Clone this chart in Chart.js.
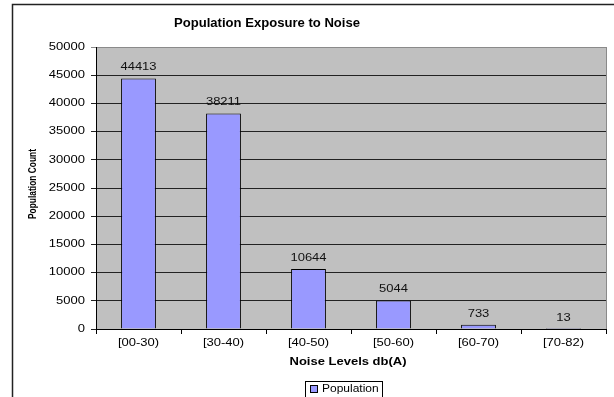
<!DOCTYPE html>
<html>
<head>
<meta charset="utf-8">
<script src="https://cdn.jsdelivr.net/npm/chart.js@4"></script>
<style>
  html, body { margin: 0; padding: 0; background: #fff; }
  #wrap { width: 614px; height: 397px; position: relative; }
</style>
</head>
<body>
<div id="wrap"><canvas id="c" width="614" height="397"></canvas></div>
<script>
const categories = ['[00-30)', '[30-40)', '[40-50)', '[50-60)', '[60-70)', '[70-82)'];
const population = [44413, 38211, 10644, 5044, 733, 13];
const yTicks = [0, 5000, 10000, 15000, 20000, 25000, 30000, 35000, 40000, 45000, 50000];

const chartTitle = 'Population Exposure to Noise';
const xTitle = 'Noise Levels db(A)';
const yTitle = 'Population Count';
const seriesName = 'Population';

const FONT = '"Liberation Sans", Arial, sans-serif';
const WIDE = 1.3;   // horizontal stretch used for the wide, flat lettering

// draw text stretched horizontally by sx around its anchor point
function wideText(ctx, text, x, y, font, sx, align) {
  ctx.save();
  ctx.translate(x, y);
  ctx.scale(sx, 1);
  ctx.font = font;
  ctx.textAlign = align || 'center';
  ctx.textBaseline = 'middle';
  ctx.fillText(text, 0, 0);
  ctx.restore();
}

// Frame, plot background, titles, tick and value labels, legend
const decor = {
  id: 'decor',
  beforeDraw(chart) {
    const { ctx, chartArea: a } = chart;
    ctx.save();
    ctx.fillStyle = '#fff';
    ctx.fillRect(0, 0, chart.width, chart.height);
    // outer frame
    ctx.strokeStyle = '#222';
    ctx.lineWidth = 1.5;
    ctx.beginPath();
    ctx.moveTo(12.5, chart.height + 2);
    ctx.lineTo(12.5, 4.5);
    ctx.lineTo(chart.width + 2, 4.5);
    ctx.stroke();
    // plot area
    ctx.fillStyle = '#C0C0C0';
    ctx.fillRect(a.left, a.top, a.right - a.left, a.bottom - a.top);
    ctx.restore();
  },
  afterDraw(chart) {
    const { ctx, chartArea: a } = chart;
    const xs = chart.scales.x, ys = chart.scales.y;
    ctx.save();
    // plot border (right side)
    ctx.strokeStyle = '#8a8a8a';
    ctx.lineWidth = 1;
    ctx.beginPath();
    ctx.moveTo(Math.round(a.right) + 0.5, a.top);
    ctx.lineTo(Math.round(a.right) + 0.5, a.bottom);
    ctx.stroke();

    ctx.fillStyle = '#000';
    // title
    wideText(ctx, chartTitle, 267, 24, 'bold 12px ' + FONT, 1.09);

    // y tick labels
    yTicks.forEach(v => {
      wideText(ctx, String(v), 85, ys.getPixelForValue(v), '10px ' + FONT, WIDE, 'right');
    });
    // x tick labels
    categories.forEach((c, i) => {
      wideText(ctx, c, xs.getPixelForValue(i), 343, '10px ' + FONT, WIDE, 'center');
    });

    // x axis title
    wideText(ctx, xTitle, 348, 362, 'bold 10px ' + FONT, WIDE, 'center');

    // y axis title (condensed)
    ctx.save();
    ctx.translate(33, 184);
    ctx.rotate(-Math.PI / 2);
    ctx.scale(0.84, 1);
    ctx.font = 'bold 10px ' + FONT;
    ctx.textAlign = 'center';
    ctx.textBaseline = 'middle';
    ctx.fillText(yTitle, 0, 0);
    ctx.restore();

    // value labels
    const meta = chart.getDatasetMeta(0);
    ctx.fillStyle = '#111';
    meta.data.forEach((bar, i) => {
      wideText(ctx, String(population[i]), bar.x, bar.y - 11, '10px ' + FONT, WIDE, 'center');
    });

    // legend
    const lx = 305, ly = 381, lw = 77, lh = 17;
    ctx.fillStyle = '#fff';
    ctx.fillRect(lx, ly, lw, lh);
    ctx.strokeStyle = '#000';
    ctx.lineWidth = 1;
    ctx.strokeRect(lx + 0.5, ly + 0.5, lw, lh);
    ctx.fillStyle = '#9999FF';
    ctx.fillRect(310.5, 385.5, 7, 7);
    ctx.strokeRect(310.5, 385.5, 7, 7);
    ctx.fillStyle = '#000';
    wideText(ctx, seriesName, 322, 389, '10px ' + FONT, 1.2, 'left');
    ctx.restore();
  }
};

new Chart(document.getElementById('c'), {
  type: 'bar',
  data: {
    labels: categories,
    datasets: [{
      label: seriesName,
      data: population,
      backgroundColor: '#9999FF',
      borderColor: '#000',
      borderWidth: 1,
      barPercentage: 0.41,
      categoryPercentage: 1
    }]
  },
  options: {
    responsive: false,
    animation: false,
    devicePixelRatio: 1,
    layout: { padding: { left: 0, right: 8, top: 47, bottom: 0 } },
    plugins: {
      legend: { display: false },
      title: { display: false },
      tooltip: { enabled: false }
    },
    scales: {
      x: {
        offset: true,
        afterFit(s) { s.height = 68; },
        grid: {
          offset: true,
          drawOnChartArea: false,
          drawTicks: true,
          tickLength: 5,
          color: '#000'
        },
        border: { display: true, color: '#000', width: 1 },
        ticks: { display: false }
      },
      y: {
        min: 0,
        max: 50000,
        afterFit(s) { s.width = 96; },
        afterBuildTicks(s) { s.ticks = yTicks.map(v => ({ value: v })); },
        grid: {
          color: ctx => (ctx.tick && ctx.tick.value === 50000 ? '#8a8a8a' : '#222'),
          lineWidth: 1,
          tickLength: 5,
          drawTicks: true
        },
        border: { display: true, color: '#000', width: 1 },
        ticks: { display: false }
      }
    }
  },
  plugins: [decor]
});
</script>
</body>
</html>
